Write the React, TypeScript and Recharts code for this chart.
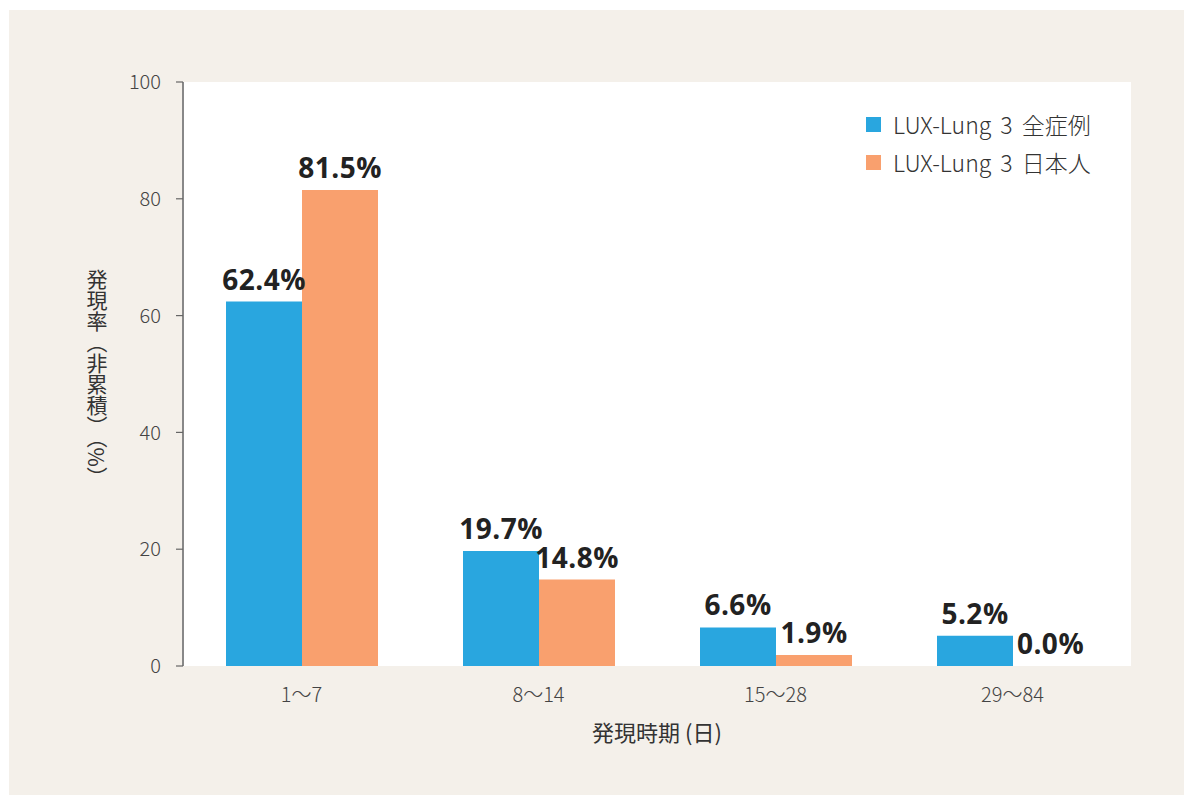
import React from 'react'
import { BarChart, Bar, XAxis, YAxis, CartesianGrid, LabelList, ReferenceDot } from 'recharts'

const categories = ['1～7', '8～14', '15～28', '29～84']
const allCases = [62.4, 19.7, 6.6, 5.2]
const japanese = [81.5, 14.8, 1.9, 0.0]
const yTicks = [0, 20, 40, 60, 80, 100]
const seriesNames = ['LUX-Lung 3 全症例', 'LUX-Lung 3 日本人']

const BLUE = '#29a6df'
const ORANGE = '#f9a06e'
const FONT = '"Noto Sans CJK JP", "Noto Sans", sans-serif'
const LABEL_STYLE = { fontSize: 28, fontWeight: 700, fill: '#222', fontFamily: '"Open Sans", "Noto Sans", sans-serif', letterSpacing: 0.5 }

const data = categories.map((c, i) => ({ cat: c, all: allCases[i], jp: japanese[i] }))

const pct = (v: any) => `${Number(v).toFixed(1)}%`

function LegendBox() {
  const items = [
    { name: seriesNames[0], color: BLUE },
    { name: seriesNames[1], color: ORANGE },
  ]
  return (
    <div style={{ position: 'absolute', left: 857, top: 95, fontFamily: FONT }}>
      {items.map(it => (
        <div key={it.name} style={{ display: 'flex', alignItems: 'center', height: 38 }}>
          <span style={{ width: 15, height: 15, background: it.color, display: 'inline-block', marginRight: 12 }} />
          <span style={{ fontSize: 23, color: '#333', fontWeight: 300, wordSpacing: 4 }}>{it.name}</span>
        </div>
      ))}
    </div>
  )
}

export default function App() {
  return (
    <div style={{ position: 'absolute', left: 9, top: 10, width: 1175, height: 785, background: '#f4f0ea', fontFamily: FONT }}>
      <BarChart
        width={1175}
        height={785}
        data={data}
        margin={{ top: 72, right: 53, left: 114, bottom: 99 }}
        barCategoryGap={43}
        barGap={0}
      >
        <CartesianGrid fill="#ffffff" horizontal={false} vertical={false} stroke="none" />
        <XAxis
          xAxisId="edges"
          type="number"
          domain={[0, 4]}
          ticks={[0, 1, 2, 3, 4]}
          height={0}
          tick={false}
          tickSize={6}
          axisLine={{ stroke: '#666', strokeWidth: 1.5 }}
          tickLine={{ stroke: '#777', strokeWidth: 1.5 }}
        />
        <XAxis
          xAxisId="cat"
          dataKey="cat"
          height={30}
          axisLine={false}
          tickLine={false}
          tick={{ fontSize: 20, fill: '#444', fontFamily: FONT, fontWeight: 300 }}
          tickMargin={16}
        />
        <YAxis
          width={60}
          domain={[0, 100]}
          ticks={yTicks}
          tickSize={7}
          tickMargin={15}
          axisLine={{ stroke: '#888', strokeWidth: 2 }}
          tickLine={{ stroke: '#666', strokeWidth: 1.2 }}
          tick={{ fontSize: 20, fill: '#444', fontFamily: FONT, fontWeight: 300 }}
        />
        <Bar xAxisId="cat" dataKey="all" name={seriesNames[0]} fill={BLUE} isAnimationActive={false}>
          <LabelList dataKey="all" position="top" offset={12} formatter={pct} style={LABEL_STYLE} />
        </Bar>
        <Bar xAxisId="cat" dataKey="jp" name={seriesNames[1]} fill={ORANGE} isAnimationActive={false}>
          <LabelList dataKey="jp" position="top" offset={12} formatter={pct} style={LABEL_STYLE} />
        </Bar>
        {data.filter(d => d.jp === 0).map(d => (
          <ReferenceDot
            key={d.cat}
            xAxisId="cat"
            x={d.cat}
            y={0}
            r={0}
            fill="none"
            stroke="none"
            label={{ value: pct(d.jp), position: 'top', dx: 38, offset: 12, style: LABEL_STYLE }}
          />
        ))}
      </BarChart>
      <LegendBox />
      <div
        style={{
          position: 'absolute',
          left: 76,
          top: 259,
          width: 24,
          height: 220,
          writingMode: 'vertical-rl',
          fontSize: 21,
          color: '#333',
          lineHeight: '24px',
        }}
      >
        発現率（非累積）（%）
      </div>
      <div style={{ position: 'absolute', left: 0, width: 1296, top: 705, textAlign: 'center', fontSize: 22, color: '#333' }}>
        発現時期 (日)
      </div>
    </div>
  )
}
